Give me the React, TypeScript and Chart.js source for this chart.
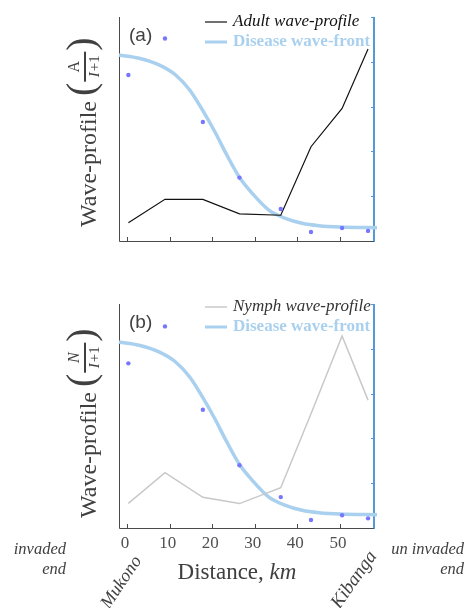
import React, { useEffect, useRef } from "react";
import { Chart, registerables } from "chart.js";

Chart.register(...registerables);

// ---------------- data ----------------
const distanceKm = [0.3, 8.9, 17.8, 26.4, 36.1, 43.2, 50.5, 56.6];
const adultProfile = [0.082, 0.186, 0.186, 0.121, 0.115, 0.421, 0.592, 0.857];
const nymphProfile = [0.11, 0.247, 0.137, 0.109, 0.18, 0.51, 0.857, 0.571];
const diseaseObsA = [0.741, 0.904, 0.531, 0.283, 0.143, 0.04, 0.058, 0.045];
const diseaseObsB = [0.735, 0.9, 0.528, 0.28, 0.138, 0.036, 0.057, 0.043];
const frontKm = [-1.9, 2.8, 7.5, 11.4, 14.7, 17.7, 20.8, 23.2, 26.3, 29.4, 33.3, 37.2, 41.1, 45.1, 50.0, 58.7];
const frontValue = [0.83, 0.816, 0.786, 0.741, 0.674, 0.585, 0.481, 0.392, 0.287, 0.213, 0.138, 0.101, 0.079, 0.068, 0.062, 0.059];
const xTickValues = [0, 10, 20, 30, 40, 50];
const xTickLabels = ["0", "10", "20", "30", "40", "50"];
const rightTickValues = [0.2, 0.4, 0.6, 0.8, 1.0];

const SERIF = '"Liberation Serif", "Times New Roman", serif';
const SANS = '"Liberation Sans", Arial, sans-serif';
const TEXT = "#404040";
const FRONT_COLOR = "#a9d0ee";
const DOT_COLOR = "rgb(118,118,255)";

const pts = (xs: number[], ys: number[]) => xs.map((x, i) => ({ x, y: ys[i] }));

type PanelProps = {
  height: number;
  padTop: number;
  padBottom: number;
  tag: string;
  profile: number[];
  obs: number[];
  profileColor: string;
  profileWidth: number;
  profileLabel: string;
  profileLabelColor: string;
  profileLabelSize: number;
  numer: string;
  numerItalic: boolean;
  titleStart: number;
  bottom: boolean;
};

function drawYTitle(ctx: CanvasRenderingContext2D, bottomY: number, p: PanelProps) {
  ctx.save();
  ctx.translate(96, bottomY - p.titleStart);
  ctx.rotate(-Math.PI / 2);
  ctx.fillStyle = TEXT;
  ctx.textAlign = "left";
  ctx.textBaseline = "alphabetic";
  ctx.font = `24px ${SERIF}`;
  ctx.fillText("Wave-profile", 0, 0);
  let u = ctx.measureText("Wave-profile").width + 5;
  ctx.font = `40px ${SERIF}`;
  ctx.fillText("(", u, -2);
  u += ctx.measureText("(").width + 1;
  const fw = 30;
  ctx.fillRect(u, -12, fw, 2);
  ctx.textAlign = "center";
  ctx.font = `${p.numerItalic ? "italic " : ""}16px ${SERIF}`;
  ctx.fillText(p.numer, u + fw / 2, -17);
  ctx.textAlign = "left";
  ctx.font = `italic 15px ${SERIF}`;
  const wI = ctx.measureText("I").width;
  ctx.font = `15px ${SERIF}`;
  const wR = ctx.measureText("+1").width;
  const s = u + fw / 2 - (wI + wR) / 2;
  ctx.font = `italic 15px ${SERIF}`;
  ctx.fillText("I", s, 3);
  ctx.font = `15px ${SERIF}`;
  ctx.fillText("+1", s + wI + 1, 3);
  ctx.font = `40px ${SERIF}`;
  ctx.fillText(")", u + fw + 1, -2);
  ctx.restore();
}

function PanelChart(p: PanelProps) {
  const ref = useRef<HTMLCanvasElement>(null);
  useEffect(() => {
    if (!ref.current) return;
    const axesPlugin = {
      id: "axesPlugin",
      beforeDatasetsDraw(chart: any) {
        const { ctx, chartArea: a, scales } = chart;
        const x = scales.x;
        const y = scales.y;
        ctx.save();
        ctx.lineWidth = 1;
        ctx.strokeStyle = "#4a4a4a";
        ctx.beginPath();
        ctx.moveTo(a.left + 0.5, a.top);
        ctx.lineTo(a.left + 0.5, a.bottom + 0.5);
        ctx.lineTo(a.right, a.bottom + 0.5);
        ctx.stroke();
        ctx.beginPath();
        for (const t of xTickValues) {
          const px = Math.round(x.getPixelForValue(t)) + 0.5;
          ctx.moveTo(px, a.bottom);
          ctx.lineTo(px, a.bottom - 4);
        }
        ctx.stroke();
        ctx.strokeStyle = "#1a78c8";
        ctx.lineWidth = 1.5;
        ctx.beginPath();
        ctx.moveTo(a.right, a.top);
        ctx.lineTo(a.right, a.bottom + 1);
        ctx.stroke();
        ctx.strokeStyle = "#4a9ae0";
        ctx.lineWidth = 1;
        ctx.beginPath();
        for (const v of rightTickValues) {
          const py = Math.round(y.getPixelForValue(v)) + 0.5;
          ctx.moveTo(a.right, py);
          ctx.lineTo(a.right - 3, py);
        }
        ctx.stroke();
        ctx.restore();
      },
      afterDraw(chart: any) {
        const { ctx, chartArea: a, scales } = chart;
        const x = scales.x;
        ctx.save();
        // panel tag
        ctx.fillStyle = TEXT;
        ctx.font = `19px ${SANS}`;
        ctx.textAlign = "left";
        ctx.textBaseline = "middle";
        ctx.fillText(p.tag, 129, a.top + 19);
        // legend
        const ly1 = a.top + (p.bottom ? 3 : 5);
        const ly2 = ly1 + 20;
        ctx.strokeStyle = p.profileColor;
        ctx.lineWidth = p.profileWidth;
        ctx.beginPath();
        ctx.moveTo(205, ly1);
        ctx.lineTo(227, ly1);
        ctx.stroke();
        ctx.strokeStyle = FRONT_COLOR;
        ctx.lineWidth = 3;
        ctx.beginPath();
        ctx.moveTo(205, ly2);
        ctx.lineTo(227, ly2);
        ctx.stroke();
        ctx.fillStyle = p.profileLabelColor;
        ctx.font = `italic ${p.profileLabelSize}px ${SERIF}`;
        ctx.fillText(p.profileLabel, 233, ly1);
        ctx.fillStyle = FRONT_COLOR;
        ctx.font = `bold 17px ${SERIF}`;
        ctx.fillText("Disease wave-front", 233, ly2);
        // y title
        drawYTitle(ctx, a.bottom, p);
        if (p.bottom) {
          ctx.fillStyle = "#505050";
          ctx.font = `17px ${SERIF}`;
          ctx.textAlign = "center";
          ctx.textBaseline = "middle";
          xTickValues.forEach((t, i) => {
            ctx.fillText(xTickLabels[i], x.getPixelForValue(t) - 2, a.bottom + 16);
          });
          // x title
          ctx.fillStyle = TEXT;
          ctx.font = `23px ${SERIF}`;
          const w1 = ctx.measureText("Distance, ").width;
          ctx.font = `italic 23px ${SERIF}`;
          const w2 = ctx.measureText("km").width;
          const sx = 237 - (w1 + w2) / 2;
          ctx.textAlign = "left";
          ctx.font = `23px ${SERIF}`;
          ctx.fillText("Distance, ", sx, a.bottom + 45);
          ctx.font = `italic 23px ${SERIF}`;
          ctx.fillText("km", sx + w1, a.bottom + 45);
          // place names
          ctx.fillStyle = TEXT;
          ctx.textAlign = "right";
          ctx.save();
          ctx.translate(138, a.bottom + 30);
          ctx.rotate((-56 * Math.PI) / 180);
          ctx.font = `italic 18px ${SERIF}`;
          ctx.fillText("Mukono", 0, 0);
          ctx.restore();
          ctx.save();
          ctx.translate(373, a.bottom + 25);
          ctx.rotate((-55 * Math.PI) / 180);
          ctx.font = `italic 19px ${SERIF}`;
          ctx.fillText("Kibanga", 0, 0);
          ctx.restore();
          // ends
          ctx.font = `italic 16.5px ${SERIF}`;
          ctx.fillText("invaded", 66, a.bottom + 22);
          ctx.fillText("end", 66, a.bottom + 42);
          ctx.fillText("un invaded", 464, a.bottom + 22);
          ctx.fillText("end", 464, a.bottom + 42);
        }
        ctx.restore();
      },
    };
    const chart = new Chart(ref.current, {
      type: "line",
      data: {
        datasets: [
          {
            label: "Disease observed",
            data: pts(distanceKm, p.obs),
            showLine: false,
            pointRadius: 2.2,
            pointBackgroundColor: DOT_COLOR,
            pointBorderWidth: 0,
            borderColor: DOT_COLOR,
          },
          {
            label: p.profileLabel,
            data: pts(distanceKm, p.profile),
            borderColor: p.profileColor,
            borderWidth: p.profileWidth,
            pointRadius: 0,
            tension: 0,
          },
          {
            label: "Disease wave-front",
            data: pts(frontKm, frontValue),
            borderColor: FRONT_COLOR,
            borderWidth: 3.5,
            pointRadius: 0,
            cubicInterpolationMode: "monotone",
            clip: false as any,
          },
        ],
      },
      options: {
        responsive: false,
        animation: false,
        events: [],
        layout: { padding: { left: 119, right: 92, top: p.padTop, bottom: p.padBottom } },
        scales: {
          x: { type: "linear", min: -1.9, max: 58, display: false },
          y: { type: "linear", min: 0, max: 1, display: false },
        },
        plugins: { legend: { display: false }, tooltip: { enabled: false } },
      },
      plugins: [axesPlugin],
    } as any);
    return () => chart.destroy();
  }, []);
  return (
    <canvas
      ref={ref}
      width={466}
      height={p.height}
      style={{ display: "block", width: 466, height: p.height }}
    />
  );
}

export default function App() {
  return (
    <div style={{ position: "absolute", left: 0, top: 0, width: 466, height: 608, background: "#fff" }}>
      <PanelChart
        height={280}
        padTop={17}
        padBottom={39}
        tag="(a)"
        profile={adultProfile}
        obs={diseaseObsA}
        profileColor="#111111"
        profileWidth={1.2}
        profileLabel="Adult wave-profile"
        profileLabelColor="#111111"
        profileLabelSize={17}
        numer="A"
        numerItalic={false}
        titleStart={14}
        bottom={false}
      />
      <PanelChart
        height={328}
        padTop={24}
        padBottom={80}
        tag="(b)"
        profile={nymphProfile}
        obs={diseaseObsB}
        profileColor="#c8c8c8"
        profileWidth={1.5}
        profileLabel="Nymph wave-profile"
        profileLabelColor="#333333"
        profileLabelSize={17}
        numer="N"
        numerItalic={true}
        titleStart={10}
        bottom={true}
      />
    </div>
  );
}
